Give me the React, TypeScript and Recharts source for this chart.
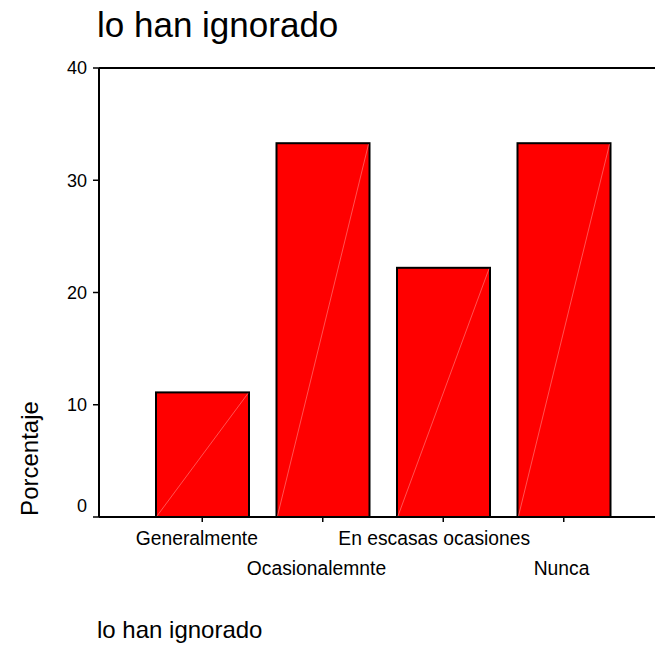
import React from 'react';
import { BarChart, Bar, XAxis, YAxis, ReferenceLine } from 'recharts';

const categories = ['Generalmente', 'Ocasionalemnte', 'En escasas ocasiones', 'Nunca'];
const percentages = [11.1, 33.3, 22.2, 33.3];
const yTicks = [0, 10, 20, 30, 40];
const titleText = 'lo han ignorado';
const yLabelText = 'Porcentaje';
const footText = 'lo han ignorado';

const data = categories.map((c, i) => ({ name: c, value: percentages[i] }));

const FONT = '"Liberation Sans", Arial, Helvetica, sans-serif';

const BarShape = (props: any) => {
  const { x, y, width, height } = props;
  if (!height || height <= 0) return null;
  return (
    <g>
      <rect x={x} y={y} width={width} height={height} fill="#ff0000" stroke="#000" strokeWidth={2} />
      <line x1={x + 1} y1={y + height - 1} x2={x + width - 1} y2={y + 1} stroke="#ff8a8a" strokeWidth={0.6} />
    </g>
  );
};

const YTick = (props: any) => {
  const { y, payload } = props;
  const v = payload.value;
  const base = y + 6.4 - (v === 0 ? 11 : 0);
  return (
    <text x={87} y={base} textAnchor="end" fontSize={18} fill="#000" fontFamily={FONT}>
      {v}
    </text>
  );
};

const XTick = (props: any) => {
  const { x, payload, index } = props;
  const base = index % 2 === 0 ? 545 : 575;
  const label = String(payload.value);
  const shift = -0.45 * label.length;
  return (
    <text x={x + shift} y={base} textAnchor="middle" fontSize={19.3} fill="#000" fontFamily={FONT}>
      {label}
    </text>
  );
};

export default function App() {
  return (
    <div style={{ position: 'absolute', left: 0, top: 0, width: 655, height: 649, overflow: 'hidden', background: '#fff' }}>
      <BarChart
        width={720}
        height={649}
        data={data}
        margin={{ top: 68, right: 0, bottom: 32, left: 39 }}
        style={{ position: 'absolute', left: 0, top: 0 }}
      >
        <ReferenceLine y={40} stroke="#000" strokeWidth={2} ifOverflow="visible" />
        <XAxis
          dataKey="name"
          height={100}
          padding={{ left: 43, right: 96 }}
          axisLine={{ stroke: '#000', strokeWidth: 2 }}
          tickLine={{ stroke: '#000', strokeWidth: 1.5 }}
          tickSize={5}
          interval={0}
          tick={<XTick />}
        />
        <YAxis
          width={60}
          domain={[0, 40]}
          ticks={yTicks}
          allowDataOverflow
          axisLine={{ stroke: '#000', strokeWidth: 2 }}
          tickLine={{ stroke: '#000', strokeWidth: 1.5 }}
          tickSize={6}
          tick={<YTick />}
        />
        <Bar dataKey="value" barSize={93} isAnimationActive={false} shape={<BarShape />} />
      </BarChart>
      <svg width={655} height={649} style={{ position: 'absolute', left: 0, top: 0, pointerEvents: 'none' }}>
        <text x={97} y={37} fontSize={35} fontFamily={FONT} fill="#000">{titleText}</text>
        <text
          transform="translate(37.7,458.5) rotate(-90)"
          textAnchor="middle"
          fontSize={24}
          fontFamily={FONT}
          fill="#000"
        >
          {yLabelText}
        </text>
        <text x={97} y={638} fontSize={24} fontFamily={FONT} fill="#000">{footText}</text>
      </svg>
    </div>
  );
}
